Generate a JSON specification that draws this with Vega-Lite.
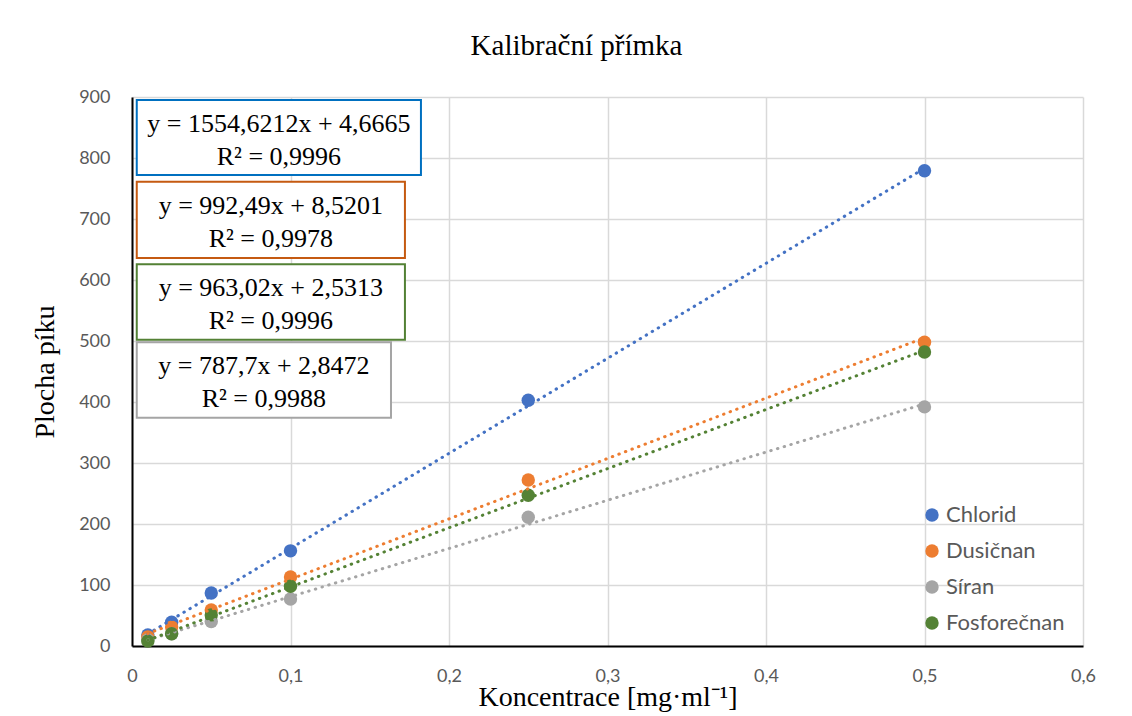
{
  "$schema": "https://vega.github.io/schema/vega-lite/v6.json",
  "width": 951,
  "height": 549,
  "autosize": {"type": "none"},
  "padding": {"left": 132, "top": 97, "right": 49, "bottom": 70},
  "background": "white",
  "title": {
    "text": "Kalibrační přímka",
    "font": "Liberation Serif",
    "fontSize": 29,
    "fontWeight": "normal",
    "color": "#000000",
    "anchor": "middle",
    "dx": -31,
    "offset": 27
  },
  "datasets": {
    "points": [
      {"series": "Chlorid", "x": 0.01, "y": 18},
      {"series": "Chlorid", "x": 0.025, "y": 39},
      {"series": "Chlorid", "x": 0.05, "y": 87},
      {"series": "Chlorid", "x": 0.1, "y": 156},
      {"series": "Chlorid", "x": 0.25, "y": 403},
      {"series": "Chlorid", "x": 0.5, "y": 779},
      {"series": "Dusičnan", "x": 0.01, "y": 15},
      {"series": "Dusičnan", "x": 0.025, "y": 31},
      {"series": "Dusičnan", "x": 0.05, "y": 59},
      {"series": "Dusičnan", "x": 0.1, "y": 113},
      {"series": "Dusičnan", "x": 0.25, "y": 272},
      {"series": "Dusičnan", "x": 0.5, "y": 498},
      {"series": "Síran", "x": 0.01, "y": 10},
      {"series": "Síran", "x": 0.025, "y": 20},
      {"series": "Síran", "x": 0.05, "y": 40},
      {"series": "Síran", "x": 0.1, "y": 77},
      {"series": "Síran", "x": 0.25, "y": 211},
      {"series": "Síran", "x": 0.5, "y": 392},
      {"series": "Fosforečnan", "x": 0.01, "y": 8},
      {"series": "Fosforečnan", "x": 0.025, "y": 20},
      {"series": "Fosforečnan", "x": 0.05, "y": 51},
      {"series": "Fosforečnan", "x": 0.1, "y": 98},
      {"series": "Fosforečnan", "x": 0.25, "y": 247},
      {"series": "Fosforečnan", "x": 0.5, "y": 482}
    ],
    "equations": [
      {"series": "Chlorid", "eq": "y = 1554,6212x + 4,6665", "r2": "R² = 0,9996", "x1": 0.003, "x2": 0.1823, "xc": 0.0927, "y1": 895, "y2": 772},
      {"series": "Dusičnan", "eq": "y = 992,49x + 8,5201", "r2": "R² = 0,9978", "x1": 0.003, "x2": 0.1722, "xc": 0.0876, "y1": 761, "y2": 636},
      {"series": "Fosforečnan", "eq": "y = 963,02x + 2,5313", "r2": "R² = 0,9996", "x1": 0.003, "x2": 0.1722, "xc": 0.0876, "y1": 626, "y2": 502},
      {"series": "Síran", "eq": "y = 787,7x + 2,8472", "r2": "R² = 0,9988", "x1": 0.003, "x2": 0.1634, "xc": 0.0832, "y1": 498, "y2": 374}
    ]
  },
  "layer": [
    {
      "data": {"name": "equations"},
      "mark": {"type": "rect", "fill": "white", "strokeWidth": 2},
      "encoding": {
        "x": {"field": "x1", "type": "quantitative", "title": "Koncentrace [mg·ml⁻¹]", "scale": {"domain": [0, 0.6], "nice": false, "zero": true}, "axis": {"values": [0, 0.1, 0.2, 0.3, 0.4, 0.5, 0.6], "format": ".1~f", "labelFlush": false}},
        "x2": {"field": "x2"},
        "y": {"field": "y1", "type": "quantitative", "title": "Plocha píku", "scale": {"domain": [0, 900], "nice": false}, "axis": {"values": [0, 100, 200, 300, 400, 500, 600, 700, 800, 900], "format": "d"}},
        "y2": {"field": "y2"},
        "stroke": {
          "field": "series",
          "type": "nominal",
          "scale": {"domain": ["Chlorid", "Dusičnan", "Síran", "Fosforečnan"], "range": ["#0070C0", "#C55A11", "#A5A5A5", "#538135"]},
          "legend": null
        }
      }
    },
    {
      "data": {"name": "equations"},
      "mark": {"type": "text", "font": "Liberation Serif", "fontSize": 26, "color": "#000000", "align": "center", "baseline": "middle", "dy": 24},
      "encoding": {
        "x": {"field": "xc", "type": "quantitative", "title": "Koncentrace [mg·ml⁻¹]"},
        "y": {"field": "y1", "type": "quantitative", "title": "Plocha píku"},
        "text": {"field": "eq"}
      }
    },
    {
      "data": {"name": "equations"},
      "mark": {"type": "text", "font": "Liberation Serif", "fontSize": 26, "color": "#000000", "align": "center", "baseline": "middle", "dy": 57},
      "encoding": {
        "x": {"field": "xc", "type": "quantitative", "title": "Koncentrace [mg·ml⁻¹]"},
        "y": {"field": "y1", "type": "quantitative", "title": "Plocha píku"},
        "text": {"field": "r2"}
      }
    },
    {
      "data": {"name": "points"},
      "mark": {"type": "point", "filled": true, "opacity": 1, "size": 180, "shape": "circle"},
      "encoding": {
        "x": {"field": "x", "type": "quantitative", "title": "Koncentrace [mg·ml⁻¹]"},
        "y": {"field": "y", "type": "quantitative", "title": "Plocha píku"},
        "color": {
          "field": "series",
          "type": "nominal",
          "sort": ["Chlorid", "Dusičnan", "Síran", "Fosforečnan"],
          "scale": {"domain": ["Chlorid", "Dusičnan", "Síran", "Fosforečnan"], "range": ["#4472C4", "#ED7D31", "#A5A5A5", "#548235"]},
          "legend": {
            "title": null,
            "orient": "none",
            "legendX": 789,
            "legendY": 407,
            "symbolType": "circle",
            "symbolSize": 180,
            "symbolStrokeWidth": 0,
            "labelFont": "Lato",
            "labelFontSize": 22,
            "labelColor": "#595959",
            "rowPadding": 14,
            "labelOffset": 3
          }
        }
      }
    },
    {
      "data": {"name": "points"},
      "transform": [
        {"regression": "y", "on": "x", "groupby": ["series"], "extent": [0.01, 0.5]}
      ],
      "mark": {"type": "line", "strokeWidth": 3, "strokeDash": [0.5, 6.5], "strokeCap": "round"},
      "encoding": {
        "x": {"field": "x", "type": "quantitative", "title": "Koncentrace [mg·ml⁻¹]"},
        "y": {"field": "y", "type": "quantitative", "title": "Plocha píku"},
        "color": {"field": "series", "type": "nominal", "legend": null},
        "detail": {"field": "series"}
      }
    }
  ],
  "resolve": {"scale": {"stroke": "independent"}},
  "config": {
    "locale": {"number": {"decimal": ",", "thousands": " ", "grouping": [3], "currency": ["", " Kč"]}},
    "view": {"stroke": null},
    "axis": {
      "grid": true,
      "gridColor": "#D9D9D9",
      "gridWidth": 1.5,
      "domainColor": "#000000",
      "domainWidth": 2,
      "ticks": false,
      "labelFont": "Lato",
      "labelFontSize": 18,
      "labelColor": "#595959",
      "titleFont": "Liberation Serif",
      "titleFontSize": 28,
      "titleFontWeight": "normal",
      "titleColor": "#000000"
    },
    "axisX": {
      "labelPadding": 21,
      "titlePadding": -2,
      "labelFlush": false
    },
    "axisY": {
      "labelPadding": 22,
      "titlePadding": 19
    }
  }
}
